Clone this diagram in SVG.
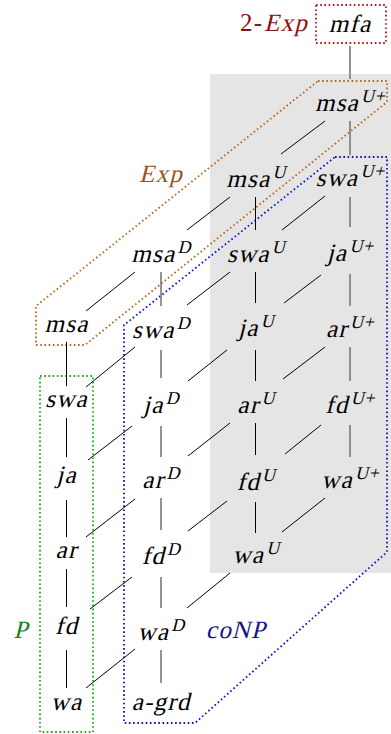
<svg xmlns="http://www.w3.org/2000/svg" width="391" height="734" viewBox="0 0 391 734" font-family="Liberation Serif, Times New Roman, serif">
<style>
.n{font-style:normal;font-size:25px;fill:#000;letter-spacing:1.2px;text-anchor:middle}
.s{font-size:18px;letter-spacing:0.5px}
.k{stroke:#000;stroke-width:1;fill:none}
.g{stroke:#707070;stroke-width:1.5;fill:none}
.dot{fill:none;stroke-width:1.8;stroke-dasharray:1.6 2.6}
.lab{font-size:25px;letter-spacing:1.2px}
</style>
<rect id="shade" x="210" y="74" width="181" height="499" fill="#e5e5e5"/>
<g id="regions">
<polygon id="expRegion" class="dot" stroke="#b8661a" points="318,81 387,81 387,102 85,345 36,345 36,306"/>
<polygon id="conpRegion" class="dot" stroke="#1010c0" points="335,157 387,157 387,552 195,723 124,723 124,325"/>
<rect id="pRegion" class="dot" stroke="#10b010" x="40" y="376" width="53" height="356"/>
<rect id="expExpRegion" class="dot" stroke="#c01010" x="316" y="5" width="70" height="38"/>
</g>
<g id="connectors">
<line class="g" x1="350" y1="46" x2="350" y2="79"/>
<line class="k" x1="66.5" y1="342" x2="66.5" y2="386"/>
<line class="k" x1="66.5" y1="418" x2="66.5" y2="457"/>
<line class="k" x1="66.5" y1="500" x2="66.5" y2="537"/>
<line class="k" x1="66.5" y1="569" x2="66.5" y2="607"/>
<line class="k" x1="66.5" y1="650" x2="66.5" y2="688"/>
<line class="g" x1="161" y1="272" x2="161" y2="306"/>
<line class="g" x1="161" y1="350" x2="161" y2="378"/>
<line class="g" x1="161" y1="426" x2="161" y2="457"/>
<line class="g" x1="161" y1="498" x2="161" y2="530"/>
<line class="g" x1="161" y1="577" x2="161" y2="608"/>
<line class="g" x1="161" y1="650" x2="161" y2="683"/>
<line class="k" x1="255.5" y1="197" x2="255.5" y2="230"/>
<line class="k" x1="255.5" y1="272" x2="255.5" y2="303"/>
<line class="k" x1="255.5" y1="350" x2="255.5" y2="381"/>
<line class="k" x1="255.5" y1="423" x2="255.5" y2="455"/>
<line class="k" x1="255.5" y1="502" x2="255.5" y2="533"/>
<line class="g" x1="350" y1="121" x2="350" y2="155"/>
<line class="g" x1="350" y1="197" x2="350" y2="227"/>
<line class="g" x1="350" y1="274" x2="350" y2="306"/>
<line class="g" x1="350" y1="347" x2="350" y2="381"/>
<line class="g" x1="350" y1="425" x2="350" y2="457"/>
<line class="k" x1="86" y1="311" x2="135" y2="272"/>
<line class="k" x1="86" y1="387" x2="135" y2="347"/>
<line class="k" x1="88" y1="460" x2="132" y2="426"/>
<line class="k" x1="86" y1="537" x2="135" y2="499"/>
<line class="k" x1="90" y1="609" x2="132" y2="577"/>
<line class="k" x1="86" y1="688" x2="135" y2="649"/>
<line class="k" x1="187" y1="230" x2="230" y2="197"/>
<line class="k" x1="187" y1="305" x2="230" y2="272"/>
<line class="k" x1="188" y1="381" x2="227" y2="350"/>
<line class="k" x1="188" y1="456" x2="230" y2="423"/>
<line class="k" x1="188" y1="531" x2="227" y2="501"/>
<line class="k" x1="187" y1="608" x2="230" y2="573"/>
<line class="k" x1="281" y1="154" x2="325" y2="121"/>
<line class="k" x1="282" y1="230" x2="325" y2="196"/>
<line class="k" x1="284" y1="303" x2="321" y2="275"/>
<line class="k" x1="283" y1="379" x2="325" y2="347"/>
<line class="k" x1="285" y1="454" x2="321" y2="425"/>
<line class="k" x1="282" y1="532" x2="325" y2="498"/>
</g>
<g id="labels">
<g id="label2Exp" fill="#8b1010">
<text class="lab" x="240" y="31">2-</text>
<text class="lab" transform="translate(264,31) skewX(-14)">Exp</text>
</g>
<text class="lab" transform="translate(161,182) skewX(-14)" fill="#9a5518" text-anchor="middle">Exp</text>
<text class="lab" transform="translate(21,638) skewX(-14)" fill="#1a801a" text-anchor="middle">P</text>
<text class="lab" transform="translate(236,638) skewX(-14)" fill="#14148c" text-anchor="middle">coNP</text>
</g>
<g id="mfa"><text class="n" transform="translate(350,32) skewX(-14)">mfa</text></g>
<g id="msa"><text class="n" transform="translate(66.5,332) skewX(-14)">msa</text></g>
<g id="swa"><text class="n" transform="translate(66.5,407) skewX(-14)">swa</text></g>
<g id="ja"><text class="n" transform="translate(66.5,483) skewX(-14)">ja</text></g>
<g id="ar"><text class="n" transform="translate(66.5,558) skewX(-14)">ar</text></g>
<g id="fd"><text class="n" transform="translate(66.5,634) skewX(-14)">fd</text></g>
<g id="wa"><text class="n" transform="translate(66.5,710) skewX(-14)">wa</text></g>
<g id="msaD"><text class="n" transform="translate(160,262) skewX(-14)">msa<tspan class="s" dy="-9">D</tspan></text></g>
<g id="swaD"><text class="n" transform="translate(160,338) skewX(-14)">swa<tspan class="s" dy="-9">D</tspan></text></g>
<g id="jaD"><text class="n" transform="translate(160,413) skewX(-14)">ja<tspan class="s" dy="-9">D</tspan></text></g>
<g id="arD"><text class="n" transform="translate(160,488) skewX(-14)">ar<tspan class="s" dy="-9">D</tspan></text></g>
<g id="fdD"><text class="n" transform="translate(160,564) skewX(-14)">fd<tspan class="s" dy="-9">D</tspan></text></g>
<g id="waD"><text class="n" transform="translate(160,640) skewX(-14)">wa<tspan class="s" dy="-9">D</tspan></text></g>
<g id="agrd"><text class="n" transform="translate(161,710) skewX(-14)">a-grd</text></g>
<g id="msaU"><text class="n" transform="translate(255,187) skewX(-14)">msa<tspan class="s" dy="-9">U</tspan></text></g>
<g id="swaU"><text class="n" transform="translate(255,262) skewX(-14)">swa<tspan class="s" dy="-9">U</tspan></text></g>
<g id="jaU"><text class="n" transform="translate(255,336) skewX(-14)">ja<tspan class="s" dy="-9">U</tspan></text></g>
<g id="arU"><text class="n" transform="translate(255,413) skewX(-14)">ar<tspan class="s" dy="-9">U</tspan></text></g>
<g id="fdU"><text class="n" transform="translate(255,490) skewX(-14)">fd<tspan class="s" dy="-9">U</tspan></text></g>
<g id="waU"><text class="n" transform="translate(255,563) skewX(-14)">wa<tspan class="s" dy="-9">U</tspan></text></g>
<g id="msaUp"><text class="n" transform="translate(349,111) skewX(-14)">msa<tspan class="s" dy="-9">U+</tspan></text></g>
<g id="swaUp"><text class="n" transform="translate(349,186) skewX(-14)">swa<tspan class="s" dy="-9">U+</tspan></text></g>
<g id="jaUp"><text class="n" transform="translate(349,261) skewX(-14)">ja<tspan class="s" dy="-9">U+</tspan></text></g>
<g id="arUp"><text class="n" transform="translate(349,337) skewX(-14)">ar<tspan class="s" dy="-9">U+</tspan></text></g>
<g id="fdUp"><text class="n" transform="translate(349,413) skewX(-14)">fd<tspan class="s" dy="-9">U+</tspan></text></g>
<g id="waUp"><text class="n" transform="translate(349,488) skewX(-14)">wa<tspan class="s" dy="-9">U+</tspan></text></g>
</svg>
